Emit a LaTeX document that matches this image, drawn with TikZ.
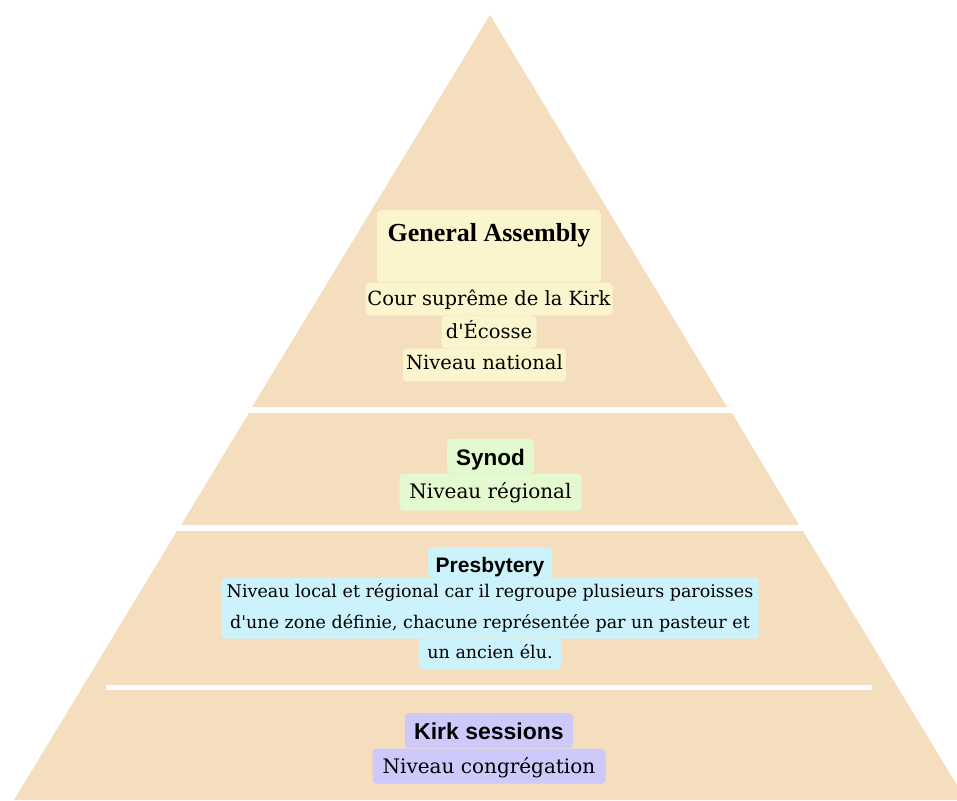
\documentclass[tikz,border=0pt]{standalone}
\usepackage{fontspec}
\setmainfont{DejaVu Serif}
\newfontfamily\headsans{Liberation Sans}
\newfontfamily\headserif{Liberation Serif}
\usepackage{tikz}
\usetikzlibrary{positioning}
\definecolor{pyrSand}{HTML}{F5DEBD}
\definecolor{tagYellow}{HTML}{FBF5CD}
\definecolor{tagGreen}{HTML}{E3F9CF}
\definecolor{tagCyan}{HTML}{CCF3FB}
\definecolor{tagLilac}{HTML}{CDC9FA}
\begin{document}
\begin{tikzpicture}[x=1pt, y=-1pt,
    pyr/.style    = {fill=pyrSand},
    tag/.style    = {rounded corners=4pt, inner xsep=0pt, inner ysep=0pt,
                     text=black, align=center},
    head/.style   = {tag, font=\headsans\bfseries\fontsize{22.5}{27}\selectfont,
                     text height=26pt, text depth=8pt},
    bodyline/.style = {tag, font=\fontsize{20}{30.5}\selectfont,
                     text height=24pt, text depth=11pt},
  ]
  \useasboundingbox (0,0) rectangle (957,800);
  \clip (0,0) rectangle (957,800);
  % pyramid tiers
  \fill[pyr] (490,15) -- (727,407) -- (252,407) -- cycle;
  \fill[pyr] (249,413) -- (732,413) -- (799,525) -- (181,525) -- cycle;
  \fill[pyr] (177,531) -- (803,531) -- (966,800) -- (14,800) -- cycle;
  \fill[white] (106,685) rectangle (872,690);

  % General Assembly
  \node[tag, fill=tagYellow, anchor=north, minimum width=224pt,
        font=\headserif\bfseries\fontsize{26}{30}\selectfont,
        text height=31pt, text depth=41pt] (gaHead) at (489,210)
        {General Assembly};
  \node[bodyline, fill=tagYellow, minimum width=247pt, font=\fontsize{19.5}{30}\selectfont,
        text height=23pt, text depth=10pt, below=0pt of gaHead] (gaLineA)
        {Cour suprême de la Kirk};
  \node[bodyline, fill=tagYellow, minimum width=95pt, font=\fontsize{19.5}{30}\selectfont,
        text height=22pt, text depth=10pt, below=0pt of gaLineA] (gaLineB)
        {d\textquotesingle Écosse};
  \node[bodyline, fill=tagYellow, minimum width=163pt, font=\fontsize{19.5}{30}\selectfont,
        text height=21pt, text depth=12pt, below=0pt of gaLineB, xshift=-4.5pt] (gaLineC)
        {Niveau national};

  % Synod
  \node[head, fill=tagGreen, anchor=north, minimum width=87pt] (synHead) at (490.5,439)
        {Synod};
  \node[bodyline, fill=tagGreen, minimum width=182pt, text height=25pt, text depth=12pt,
        below=0pt of synHead] (synLine) {Niveau régional};

  % Presbytery
  \node[head, fill=tagCyan, anchor=north, minimum width=124pt,
        font=\headsans\bfseries\fontsize{21}{25}\selectfont,
        text height=25pt, text depth=5pt] (preHead) at (490,547) {Presbytery};
  \node[bodyline, fill=tagCyan, minimum width=537pt, font=\fontsize{17.5}{30.5}\selectfont,
        text height=50.5pt, text depth=10.5pt, below=0pt of preHead] (preLineA)
        {Niveau local et régional car il regroupe plusieurs paroisses\\
         d\textquotesingle une zone définie, chacune représentée par un pasteur et};
  \node[bodyline, fill=tagCyan, minimum width=143pt, font=\fontsize{17.5}{30.5}\selectfont,
        text height=19pt, text depth=11pt, below=0pt of preLineA] (preLineB)
        {un ancien élu.};

  % Kirk sessions
  \node[head, fill=tagLilac, anchor=north, minimum width=168pt,
        font=\headsans\bfseries\fontsize{23}{27}\selectfont,
        text height=26pt, text depth=9pt] (kirkHead) at (489,713) {Kirk sessions};
  \node[bodyline, fill=tagLilac, minimum width=233pt, text height=25pt, text depth=10pt,
        below=0pt of kirkHead] (kirkLine) {Niveau congrégation};
\end{tikzpicture}
\end{document}
